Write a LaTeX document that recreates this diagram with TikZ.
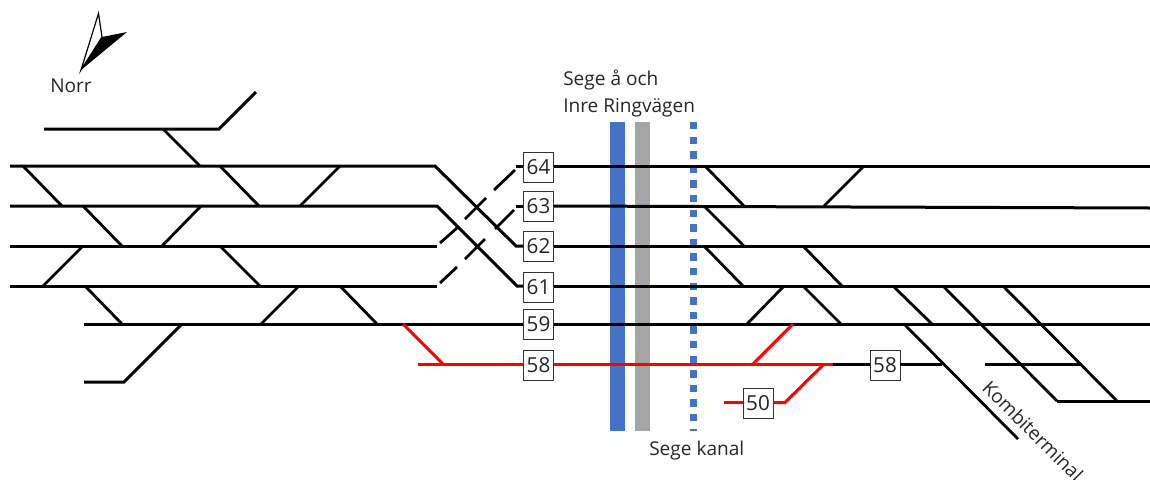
\documentclass[tikz,border=0pt]{standalone}
\usepackage{fontspec}
\setmainfont{Open Sans}
\definecolor{barblue}{HTML}{4472C4}
\definecolor{bargray}{HTML}{A5A5A5}
\definecolor{trackred}{HTML}{FF0000}
\definecolor{txt}{HTML}{262626}
\tikzset{
  track/.style={draw=black,line width=2.25pt},
  diag/.style={draw=black,line width=2.1pt},
  redtrack/.style={draw=trackred,line width=2.25pt},
  numbox/.style={draw=black!80,line width=0.7pt,fill=white,minimum width=22.5pt,minimum height=22.5pt,inner sep=0pt,font=\fontsize{15.5}{17}\selectfont,text=txt},
  lbl/.style={inner sep=0pt,font=\fontsize{14.3}{17}\selectfont,text=txt},
}
\begin{document}
\begin{tikzpicture}[x=0.75pt,y=-0.75pt,line join=miter]
\path[use as bounding box] (0,0) rectangle (1150,479);
\clip (0,0) rectangle (1150,479);
% water and road
\fill[barblue] (609.5,122) rectangle (624.5,431);
\fill[bargray] (635,122) rectangle (650,431);
\foreach \k in {0,...,21}{
  \fill[barblue] (690,{122+14.6*\k}) rectangle (697,{min(129.3+14.6*\k,431)});
}
% named track ends
\coordinate (l64) at (10,166);
\coordinate (l63) at (10,206);
\coordinate (l62) at (10,246);
\coordinate (l61) at (10,286);
\coordinate (l59) at (84,324.5);
\coordinate (r64) at (1150,166);
\coordinate (r63) at (1150,208);
\coordinate (r62) at (1150,246);
\coordinate (r61) at (1150,286);
\coordinate (r59) at (1150,324.5);
% number boxes
\node[numbox] (b64) at (538.5,167) {64};
\node[numbox] (b63) at (538.5,206) {63};
\node[numbox] (b62) at (538.5,246) {62};
\node[numbox] (b61) at (538.5,287) {61};
\node[numbox] (b59) at (538.5,324) {59};
\node[numbox] (b58) at (538.5,365) {58};
\node[numbox] (c58) at (885,365) {58};
\node[numbox] (b50) at (758,403.5) {50};
% main tracks
\draw[track] (44,129) -- (219,129) -- (256,92);
\draw[track] (l64) -- (435,166) -- (516,246) -- (b62.west |- 0,246);
\draw[track] (l63) -- (437,206) -- (517,286) -- (b61.west |- 0,286);
\draw[track] (l62) -- (437,246);
\draw[track] (l61) -- (437,286);
\draw[track] (516,166) -- (b64.west |- 0,166);
\draw[track] (516,206) -- (b63.west |- 0,206);
\draw[track] (b64.east |- 0,166) -- (r64);
\draw[track] (b63.east |- 0,206) -- (r63);
\draw[track] (b62.east |- 0,246) -- (r62);
\draw[track] (b61.east |- 0,286) -- (r61);
\draw[track] (l59) -- (b59.west |- 0,324.5);
\draw[track] (b59.east |- 0,324.5) -- (r59);
% dashed crossings
\draw[diag] (515,170) -- (494,190) (486,198) -- (465,219) (457,228) -- (440,243);
\draw[diag] (514,210) -- (495,229) (485,239) -- (465,259) (457,267) -- (440,283);
% diagonals
\foreach \a/\b/\c/\d in {163/129/200/166, 23/166/62/206, 220/166/259/206, 340/166/300/206,
  83/206/122/246, 201/206/162/246, 83/246/43/286, 220/246/260/286,
  85/286/122/324, 299/286/261/324, 340/286/377/324,
  705/166/744/206, 864/166/824/206, 705/207/744/246, 704/246/743/286, 803/246/842/286,
  784/286/747/324, 803/286/841/324, 893/286/932/324, 904/324/1018/439, 943/286/1057/401, 1003/286/1117/401}{
  \draw[diag] (\a,\b) -- (\c,\d);
}
\draw[track] (182,324) -- (124,382) -- (84,382);
\draw[track] (1057,401) -- (1150,401);
\draw[track] (985,364) -- (1080,364);
\draw[track] (833,364) -- (c58.west |- 0,364);
\draw[track] (c58.east |- 0,364) -- (942,364);
% red tracks
\draw[redtrack] (403,324) -- (443,364);
\draw[redtrack] (418,364) -- (b58.west |- 0,364);
\draw[redtrack] (b58.east |- 0,364) -- (833,364);
\draw[redtrack] (753,364) -- (793,324);
\draw[redtrack] (724,402.5) -- (b50.west |- 0,402.5);
\draw[redtrack] (b50.east |- 0,402.5) -- (785,402.5) -- (824,364);
% compass
\draw[line width=0.9pt,fill=white,line join=miter] (98.5,13.5) -- (102,37) -- (81,70) -- cycle;
\fill[black] (127,32) -- (102,37) -- (81,70) -- cycle;
% labels
\node[lbl] (norr) at (71,86) {Norr};
\node[lbl,anchor=base west] (sege1) at (563,85) {Sege å och};
\node[lbl,anchor=base west] (sege2) at (563,112) {Inre Ringvägen};
\node[lbl,anchor=base west] (kanal) at (649,455) {Sege kanal};
\node[lbl,rotate=-45] (kombi) at (1033,431) {Kombiterminal};
\end{tikzpicture}
\end{document}
